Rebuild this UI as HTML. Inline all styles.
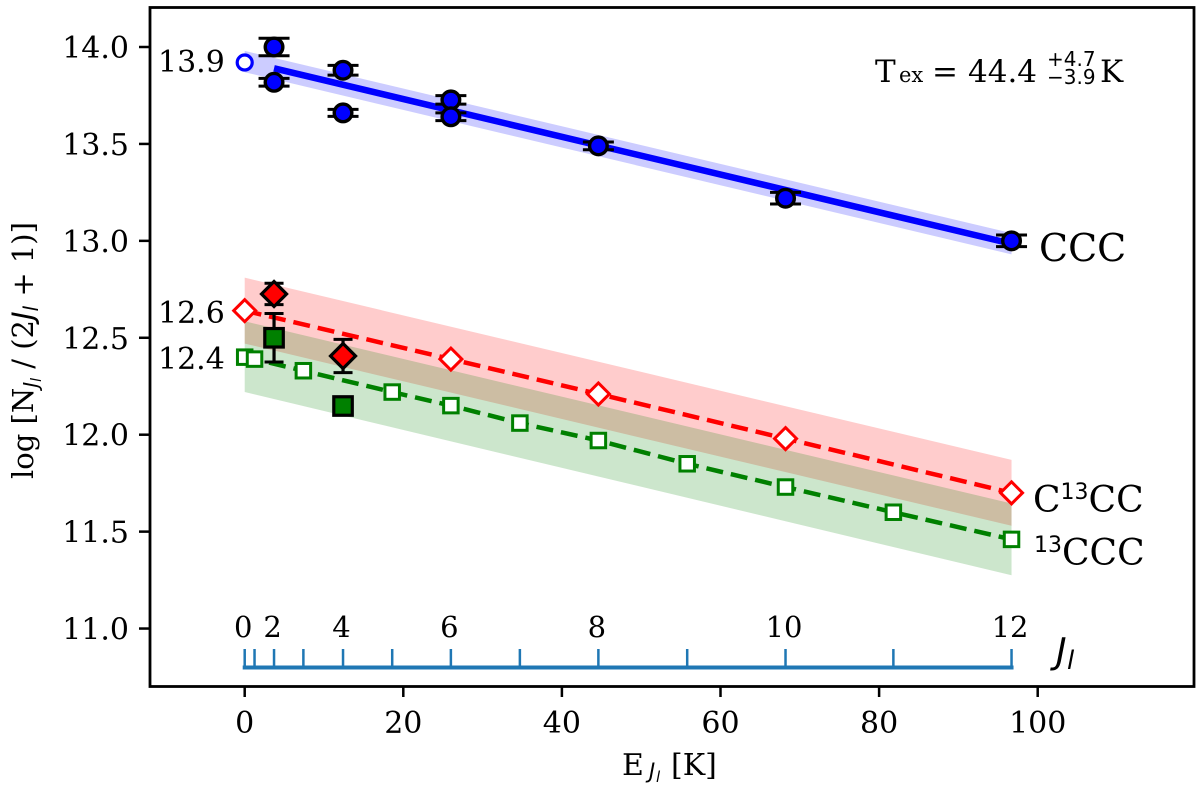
<!DOCTYPE html>
<html>
<head>
<meta charset="utf-8">
<style>
html,body{margin:0;padding:0;background:#fff;}
svg{display:block;}
text{font-family:"DejaVu Serif","Liberation Serif",serif;fill:#000;}
.tick{font-size:30px;}
.it{font-family:"DejaVu Sans","Liberation Sans",sans-serif;font-style:italic;}
.sa{font-family:"DejaVu Sans","Liberation Sans",sans-serif;}
</style>
</head>
<body>
<svg id="chart" width="1200" height="791" viewBox="0 0 1200 791" xmlns="http://www.w3.org/2000/svg">
  <g id="bands"></g>
  <g id="series"></g>
  <g id="axes"></g>
  <g id="jaxis"></g>

  <text x="158" y="72" class="tick">13.9</text>
  <text x="158" y="323" class="tick">12.6</text>
  <text x="158" y="369" class="tick">12.4</text>

  <text x="1039" y="261" font-size="38">CCC</text>
  <text x="1033" y="512" font-size="36">C<tspan font-size="22" dy="-13" class="sa">13</tspan><tspan dy="13">CC</tspan></text>
  <text x="1034" y="565" font-size="36"><tspan font-size="22" dy="-13" class="sa">13</tspan><tspan dy="13">CCC</tspan></text>

  <g>
    <text x="875" y="82" font-size="31">T</text>
    <text x="899" y="82" font-size="21">ex</text>
    <text x="932" y="82" font-size="31">=</text>
    <text x="968" y="82" font-size="31">44.4</text>
    <text x="1047" y="66" font-size="20" class="sa">+4.7</text>
    <text x="1047" y="84" font-size="20" class="sa">−3.9</text>
    <text x="1100" y="82" font-size="31">K</text>
  </g>

  <g>
    <text x="1056" y="663" font-size="36" class="it">J</text>
    <text x="1067" y="669" font-size="26" class="it">l</text>
  </g>

  <g>
    <text x="622" y="775" font-size="30">E</text>
    <text x="649" y="778" font-size="21" class="it">J</text>
    <text x="656" y="782" font-size="15" class="it">l</text>
    <text x="671" y="775" font-size="30">[K]</text>
  </g>

  <text transform="translate(33,479) rotate(-90)" font-size="29">log [N<tspan font-size="20" dy="5" class="it">J</tspan><tspan font-size="14" dy="3" class="it">l</tspan><tspan dy="-8"> / (2</tspan><tspan class="it">J</tspan><tspan font-size="20" dy="5" class="it">l</tspan><tspan dy="-5"> + 1)]</tspan></text>
</svg>
<script>
// Energy of each rotational level (K), index = J
var levelEnergies = [0, 1.24, 3.7, 7.4, 12.4, 18.6, 26, 34.7, 44.6, 55.8, 68.2, 81.8, 96.7];
var levelLabels = ["0", "", "2", "", "4", "", "6", "", "8", "", "10", "", "12"];
var xTicks = [0, 20, 40, 60, 80, 100];
var yTicks = [11.0, 11.5, 12.0, 12.5, 13.0, 13.5, 14.0];

// Observed CCC
var cccJ = [2, 2, 4, 4, 6, 6, 8, 10, 12];
var cccValues = [14.0, 13.818, 13.88, 13.66, 13.727, 13.64, 13.49, 13.22, 13.0];
var cccErrors = [0.045, 0.02, 0.025, 0.018, 0.022, 0.02, 0.02, 0.03, 0.03];
var cccFitJ = [2, 12];
var cccFit = [13.89, 12.985];
var cccBandJ = [0, 12];
var cccBandHigh = [13.98, 13.04];
var cccBandLow = [13.87, 12.93];
var cccInterceptValue = 13.92;

// C13CC
var redFitJ = [0, 6, 8, 10, 12];
var redFit = [12.64, 12.39, 12.21, 11.98, 11.70];
var redBandJ = [0, 12];
var redBandHigh = [12.81, 11.87];
var redBandLow = [12.47, 11.53];
var redObsJ = [2, 4];
var redObs = [12.726, 12.406];
var redObsErr = [0.055, 0.086];

// 13CCC
var greenFitJ = [0, 1, 3, 5, 6, 7, 8, 9, 10, 11, 12];
var greenFit = [12.40, 12.39, 12.33, 12.22, 12.15, 12.06, 11.97, 11.85, 11.73, 11.60, 11.46];
var greenBandJ = [0, 12];
var greenBandHigh = [12.585, 11.645];
var greenBandLow = [12.22, 11.275];
var greenObsJ = [2, 4];
var greenObs = [12.50, 12.148];
var greenObsErr = [0.125, 0];

var NS = "http://www.w3.org/2000/svg";
function X(e) { return 244.7 + e * 7.93; }
function Y(v) { return 47 + (14 - v) * 193.85; }
function make(tag, parent) {
  var el = document.createElementNS(NS, tag);
  parent.appendChild(el);
  return el;
}
function line(parent, x1, y1, x2, y2, color, w) {
  var el = make("line", parent);
  el.setAttribute("x1", x1);
  el.setAttribute("y1", y1);
  el.setAttribute("x2", x2);
  el.setAttribute("y2", y2);
  el.setAttribute("stroke", color);
  el.setAttribute("stroke-width", w);
  return el;
}
function band(parent, js, high, low, color, op) {
  var el = make("polygon", parent);
  var pts = [];
  for (var i = 0; i < js.length; i++) pts.push(X(levelEnergies[js[i]]) + "," + Y(high[i]));
  for (var k = js.length - 1; k >= 0; k--) pts.push(X(levelEnergies[js[k]]) + "," + Y(low[k]));
  el.setAttribute("points", pts.join(" "));
  el.setAttribute("fill", color);
  el.setAttribute("fill-opacity", op);
  return el;
}
function polyline(parent, js, vals, color, w, dash) {
  var el = make("polyline", parent);
  var pts = [];
  for (var i = 0; i < js.length; i++) pts.push(X(levelEnergies[js[i]]) + "," + Y(vals[i]));
  el.setAttribute("points", pts.join(" "));
  el.setAttribute("fill", "none");
  el.setAttribute("stroke", color);
  el.setAttribute("stroke-width", w);
  if (dash) el.setAttribute("stroke-dasharray", dash);
  return el;
}
function circle(parent, cx, cy, r, fill, stroke, w) {
  var el = make("circle", parent);
  el.setAttribute("cx", cx);
  el.setAttribute("cy", cy);
  el.setAttribute("r", r);
  el.setAttribute("fill", fill);
  el.setAttribute("stroke", stroke);
  el.setAttribute("stroke-width", w);
  return el;
}
function diamond(parent, cx, cy, d, fill, stroke, w) {
  var el = make("polygon", parent);
  el.setAttribute("points", cx + "," + (cy - d) + " " + (cx + d) + "," + cy + " " + cx + "," + (cy + d) + " " + (cx - d) + "," + cy);
  el.setAttribute("fill", fill);
  el.setAttribute("stroke", stroke);
  el.setAttribute("stroke-width", w);
  return el;
}
function square(parent, cx, cy, s, fill, stroke, w) {
  var el = make("rect", parent);
  el.setAttribute("x", cx - s / 2);
  el.setAttribute("y", cy - s / 2);
  el.setAttribute("width", s);
  el.setAttribute("height", s);
  el.setAttribute("fill", fill);
  el.setAttribute("stroke", stroke);
  el.setAttribute("stroke-width", w);
  return el;
}
function errorbar(parent, e, v, err, cap) {
  var g = make("g", parent);
  
  
  var cx = X(e);
  line(g, cx, Y(v + err), cx, Y(v - err), "#000", 3.2);
  line(g, cx - cap, Y(v + err), cx + cap, Y(v + err), "#000", 3);
  line(g, cx - cap, Y(v - err), cx + cap, Y(v - err), "#000", 3);
  return g;
}

var bands = document.getElementById("bands");
var b1 = band(bands, redBandJ, redBandHigh, redBandLow, "#ff0000", 0.2);


var b2 = band(bands, greenBandJ, greenBandHigh, greenBandLow, "#008000", 0.2);


var b3 = band(bands, cccBandJ, cccBandHigh, cccBandLow, "#0000ff", 0.2);



var series = document.getElementById("series");
var l1 = polyline(series, cccFitJ, cccFit, "#0000ff", 6.5, null);


var l2 = polyline(series, redFitJ, redFit, "#ff0000", 4.5, "17 8");


var l3 = polyline(series, greenFitJ, greenFit, "#008000", 4.5, "17 8");



var oc = circle(series, X(0), Y(cccInterceptValue), 7.5, "#fff", "#0000ff", 3.2);



greenFitJ.forEach(function (j, i) {
  var m = square(series, X(levelEnergies[j]), Y(greenFit[i]), 14.5, "#fff", "#008000", 3);
  
  
});
redFitJ.forEach(function (j, i) {
  var m = diamond(series, X(levelEnergies[j]), Y(redFit[i]), 11, "#fff", "#ff0000", 3);
  
  
});
cccJ.forEach(function (j, i) {
  errorbar(series, levelEnergies[j], cccValues[i], cccErrors[i], 15.5);
  var m = circle(series, X(levelEnergies[j]), Y(cccValues[i]), 8.8, "#0000ff", "#000", 3.4);
  
  
});
greenObsJ.forEach(function (j, i) {
  if (greenObsErr[i] > 0) {
    errorbar(series, levelEnergies[j], greenObs[i], greenObsErr[i], 9.5);
  }
  var m = square(series, X(levelEnergies[j]), Y(greenObs[i]), 18.5, "#008000", "#000", 3.2);
  
  
});
redObsJ.forEach(function (j, i) {
  errorbar(series, levelEnergies[j], redObs[i], redObsErr[i], 9.5);
  var m = diamond(series, X(levelEnergies[j]), Y(redObs[i]), 12.5, "#ff0000", "#000", 3.2);
  
  
});

var axes = document.getElementById("axes");
var frame = make("rect", axes);
frame.setAttribute("x", 150);
frame.setAttribute("y", 7.5);
frame.setAttribute("width", 1044);
frame.setAttribute("height", 679);
frame.setAttribute("fill", "none");
frame.setAttribute("stroke", "#000");
frame.setAttribute("stroke-width", 2.8);



xTicks.forEach(function (t) {
  var tk = line(axes, X(t), 686, X(t), 697, "#000", 2.5);
  
  
  var lb = make("text", axes);
  lb.setAttribute("x", X(t));
  lb.setAttribute("y", 733);
  lb.setAttribute("text-anchor", "middle");
  lb.setAttribute("class", "tick");
  lb.textContent = t;
  
  
});
yTicks.forEach(function (t) {
  var tk = line(axes, 139, Y(t), 150, Y(t), "#000", 2.5);
  
  
  var lb = make("text", axes);
  lb.setAttribute("x", 129);
  lb.setAttribute("y", Y(t) + 11);
  lb.setAttribute("text-anchor", "end");
  lb.setAttribute("class", "tick");
  lb.textContent = t.toFixed(1);
  
  
});

var jaxis = document.getElementById("jaxis");
var jl = line(jaxis, X(levelEnergies[0]) - 2, 667.5, X(levelEnergies[12]) + 2, 667.5, "#1f77b4", 4);


levelEnergies.forEach(function (e, j) {
  var tk = line(jaxis, X(e), 649, X(e), 667, "#1f77b4", 2.5);
  
  
  if (levelLabels[j]) {
    var lb = make("text", jaxis);
    lb.setAttribute("x", X(e) - 1.5);
    lb.setAttribute("y", 637);
    lb.setAttribute("text-anchor", "middle");
    lb.setAttribute("font-size", "29");
    lb.textContent = levelLabels[j];
    
    
  }
});
</script>
</body>
</html>
